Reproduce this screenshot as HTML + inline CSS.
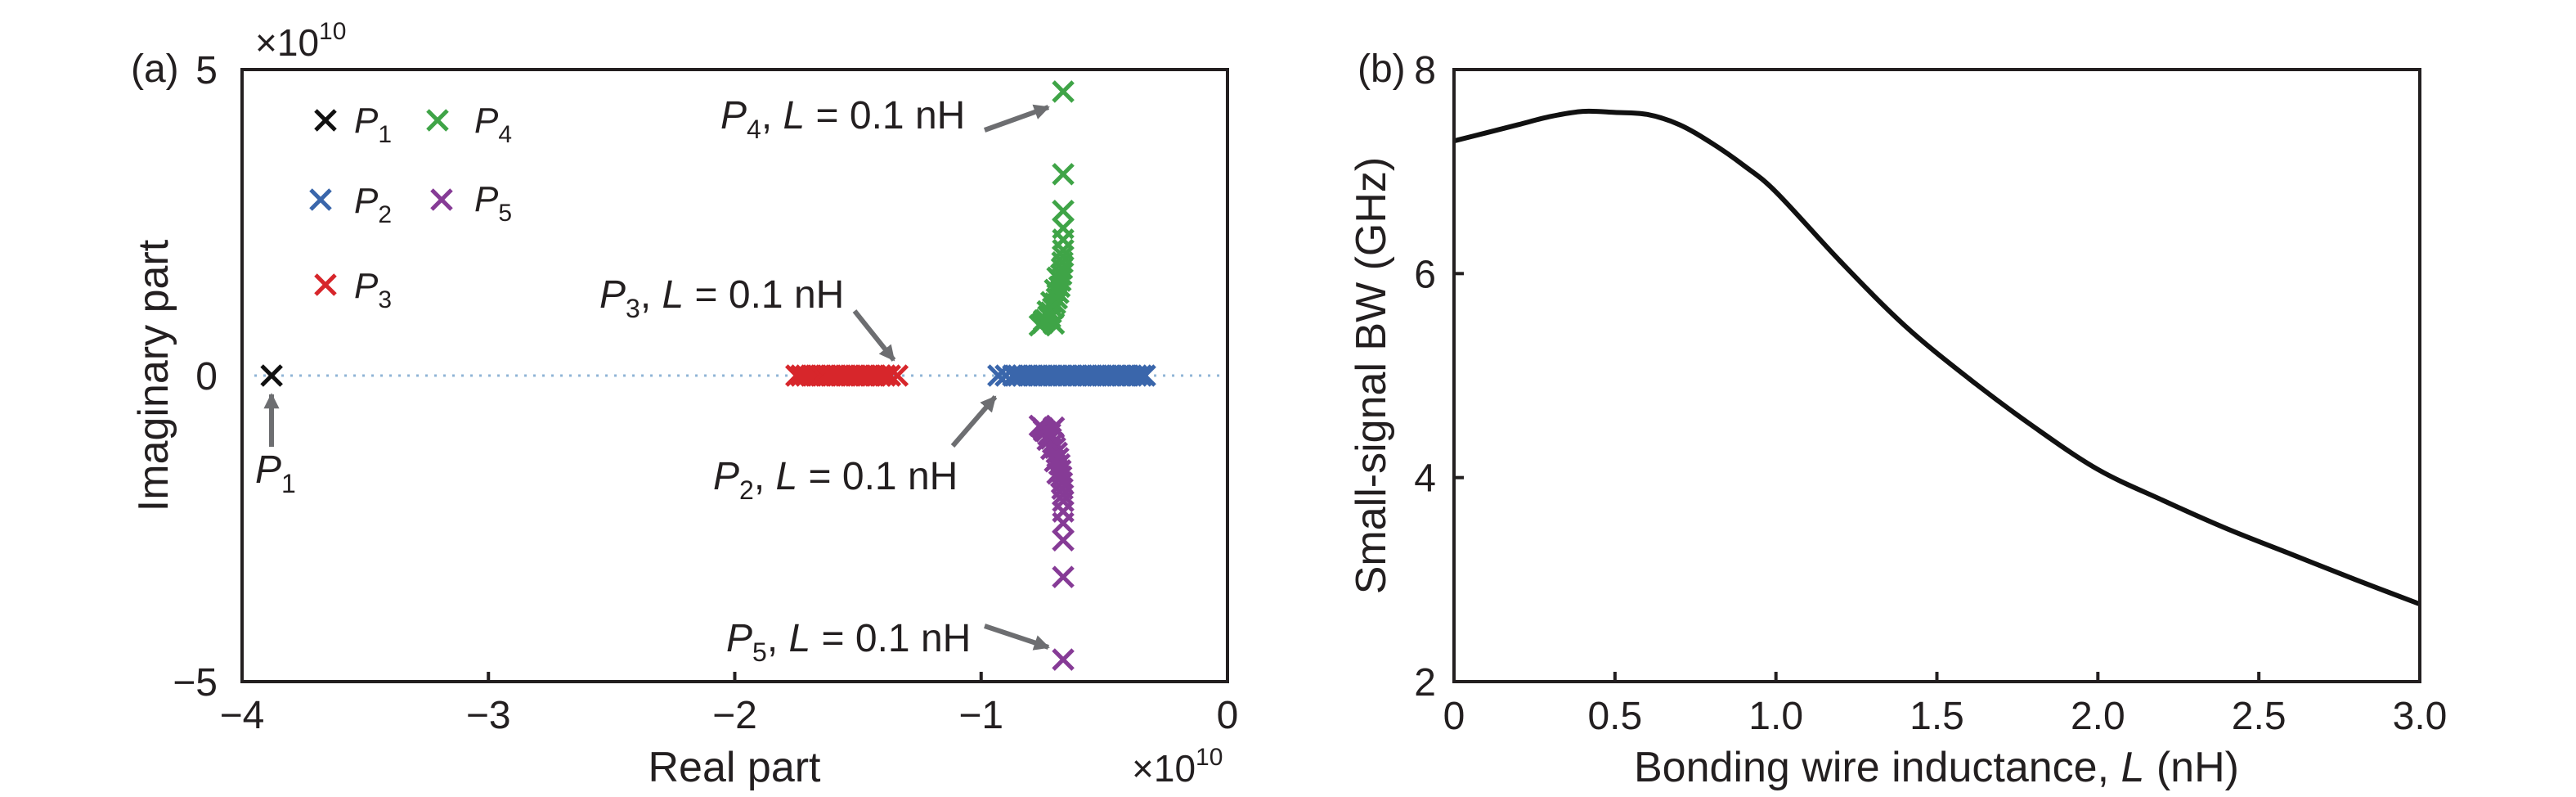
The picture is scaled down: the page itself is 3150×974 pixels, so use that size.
<!DOCTYPE html>
<html><head><meta charset="utf-8">
<style>
html,body{margin:0;padding:0;background:#fff;}
svg{display:block;font-family:"Liberation Sans Narrow","Liberation Sans",sans-serif;}
</style></head>
<body>
<svg id="fig" width="3150" height="974" viewBox="0 0 3150 974" xmlns="http://www.w3.org/2000/svg">
<g id="pa"></g>
<g id="pb"></g>
</svg>
<script>
// ---------- Panel (a) data (units of 1e10) ----------
const aXTicks = [-4, -3, -2, -1, 0];
const aYTicks = [5, 0, -5];
const p1Re = [-3.88];
const p1Im = [0];
const p2Re = [-0.93,-0.90,-0.87,-0.85,-0.83,-0.81,-0.79,-0.77,-0.75,-0.73,-0.71,-0.69,-0.67,-0.65,-0.63,-0.61,-0.59,-0.57,-0.55,-0.53,-0.51,-0.49,-0.47,-0.45,-0.43,-0.41,-0.39,-0.37,-0.35,-0.335];
const p2Im = [0,0,0,0,0,0,0,0,0,0,0,0,0,0,0,0,0,0,0,0,0,0,0,0,0,0,0,0,0,0];
const p3Re = [-1.75,-1.73,-1.71,-1.69,-1.67,-1.65,-1.63,-1.61,-1.59,-1.57,-1.55,-1.53,-1.51,-1.49,-1.47,-1.45,-1.43,-1.41,-1.39,-1.37,-1.34];
const p3Im = [0,0,0,0,0,0,0,0,0,0,0,0,0,0,0,0,0,0,0,0,0];
const p4Re = [-0.667,-0.667,-0.667,-0.667,-0.667,-0.667,-0.668,-0.670,-0.672,-0.675,-0.678,-0.682,-0.687,-0.693,-0.700,-0.708,-0.717,-0.727,-0.738,-0.750,-0.762,-0.690,-0.700,-0.715,-0.730,-0.745,-0.705,-0.72];
const p4Im = [4.64,3.29,2.69,2.41,2.22,2.05,1.95,1.85,1.75,1.65,1.55,1.45,1.35,1.26,1.18,1.10,1.03,0.97,0.91,0.86,0.82,1.60,1.40,1.20,1.05,0.90,0.85,0.95];
const p5Re = [-0.667,-0.667,-0.667,-0.667,-0.667,-0.667,-0.668,-0.670,-0.672,-0.675,-0.678,-0.682,-0.687,-0.693,-0.700,-0.708,-0.717,-0.727,-0.738,-0.750,-0.762,-0.690,-0.700,-0.715,-0.730,-0.745,-0.705,-0.72];
const p5Im = [-4.64,-3.29,-2.69,-2.41,-2.22,-2.05,-1.95,-1.85,-1.75,-1.65,-1.55,-1.45,-1.35,-1.26,-1.18,-1.10,-1.03,-0.97,-0.91,-0.86,-0.82,-1.60,-1.40,-1.20,-1.05,-0.90,-0.85,-0.95];

// ---------- Panel (b) data ----------
const bL  = [0,0.1,0.2,0.3,0.4,0.5,0.6,0.7,0.8,0.9,1.0,1.2,1.4,1.6,1.8,2.0,2.2,2.4,2.6,2.8,3.0];
const bBW = [7.30,7.38,7.46,7.54,7.59,7.58,7.56,7.46,7.28,7.06,6.80,6.12,5.49,4.97,4.50,4.08,3.78,3.50,3.25,3.00,2.76];
const bXTicks = [0,0.5,1.0,1.5,2.0,2.5,3.0];
const bXTickLabels = ["0","0.5","1.0","1.5","2.0","2.5","3.0"];
const bYTicks = [2,4,6,8];

const NS = "http://www.w3.org/2000/svg";
function mk(tag, attrs, parent){
  const e = document.createElementNS(NS, tag);
  for (const k in attrs) e.setAttribute(k, attrs[k]);
  parent.appendChild(e);
  return e;
}
const pa = document.getElementById('pa');
const pb = document.getElementById('pb');

// ---- Panel a geometry ----
const aL=296, aR=1501, aT=85, aB=833;
const ax = v => aL + (v - (-4)) / 4 * (aR - aL);
const ay = v => aT + (5 - v) / 10 * (aB - aT);

const zl = mk('line',{x1:ax(-3.95),x2:ax(-0.02),y1:ay(0),y2:ay(0),stroke:'#8fb4d6','stroke-width':3,'stroke-dasharray':'3 8'},pa);



function cross(g, cx, cy, color, name){
  const h=12;
  const grp = mk('g',{stroke:color,'stroke-width':5},g);
  
  
  mk('line',{x1:cx-h,y1:cy-h,x2:cx+h,y2:cy+h},grp);
  mk('line',{x1:cx-h,y1:cy+h,x2:cx+h,y2:cy-h},grp);
  return grp;
}
function series(re, im, color, name){
  const g = mk('g',{},pa);
  
  
  for (let i=0;i<re.length;i++) cross(g, ax(re[i]), ay(im[i]), color, name+'-point');
}
series(p3Re,p3Im,'#d7262b','p3');
series(p2Re,p2Im,'#3a66ab','p2');
series(p4Re,p4Im,'#3fa447','p4');
series(p5Re,p5Im,'#863b96','p5');
series(p1Re,p1Im,'#111111','p1');

const fa = mk('rect',{x:aL,y:aT,width:aR-aL,height:aB-aT,fill:'none',stroke:'#231f20','stroke-width':4},pa);



aXTicks.forEach(t=>{
  const tk = mk('line',{x1:ax(t),x2:ax(t),y1:aB,y2:aB-12,stroke:'#231f20','stroke-width':4},pa);
  
  
  const lb = mk('text',{x:ax(t),y:aB+57,'font-size':48,'text-anchor':'middle',fill:'#231f20'},pa);
  lb.textContent = t<0 ? '\u2212'+Math.abs(t) : String(t);
  
  
});
aYTicks.forEach(t=>{
  const lb = mk('text',{x:aL-30,y:ay(t)+17,'font-size':48,'text-anchor':'end',fill:'#231f20'},pa);
  lb.textContent = t<0 ? '\u2212'+Math.abs(t) : String(t);
  
  
});

// ---- Panel b geometry ----
const bLft=1778, bRt=2959, bT=85, bBt=833;
const bx = v => bLft + v/3*(bRt-bLft);
const by = v => bT + (8 - v)/6*(bBt-bT);

const pts = bL.map((l,i)=>[bx(l), by(bBW[i])]);
let d = 'M'+pts[0][0]+','+pts[0][1];
for (let i=0;i<pts.length-1;i++){
  const p0=pts[Math.max(i-1,0)], p1=pts[i], p2=pts[i+1], p3=pts[Math.min(i+2,pts.length-1)];
  const c1x=p1[0]+(p2[0]-p0[0])/6, c1y=p1[1]+(p2[1]-p0[1])/6;
  const c2x=p2[0]-(p3[0]-p1[0])/6, c2y=p2[1]-(p3[1]-p1[1])/6;
  d += ' C'+c1x+','+c1y+' '+c2x+','+c2y+' '+p2[0]+','+p2[1];
}
const curve = mk('path',{d:d,fill:'none',stroke:'#111','stroke-width':6},pb);



const fb = mk('rect',{x:bLft,y:bT,width:bRt-bLft,height:bBt-bT,fill:'none',stroke:'#231f20','stroke-width':4},pb);



bXTicks.forEach((t,i)=>{
  const tk = mk('line',{x1:bx(t),x2:bx(t),y1:bBt,y2:bBt-12,stroke:'#231f20','stroke-width':4},pb);
  
  
  const lb = mk('text',{x:bx(t),y:bBt+58,'font-size':48,'text-anchor':'middle',fill:'#231f20'},pb);
  lb.textContent = bXTickLabels[i];
  
  
});
bYTicks.forEach(t=>{
  const tk = mk('line',{x1:bLft,x2:bLft+12,y1:by(t),y2:by(t),stroke:'#231f20','stroke-width':4},pb);
  
  
  const lb = mk('text',{x:bLft-22,y:by(t)+17,'font-size':48,'text-anchor':'end',fill:'#231f20'},pb);
  lb.textContent = String(t);
  
  
});
</script>
<script>
(function(){
  const svg = document.getElementById('fig');
  svg.insertAdjacentHTML('beforeend', `
  <g fill="#231f20">
    <text x="160" y="100" font-size="48">(a)</text>
    <text x="312" y="68" font-size="46">×10<tspan font-size="30" dy="-20">10</tspan></text>
    <text transform="translate(205,459) rotate(-90)" font-size="52" text-anchor="middle">Imaginary part</text>
    <text x="898" y="955" font-size="52" text-anchor="middle">Real part</text>
    <text x="1384" y="955" font-size="46">×10<tspan font-size="30" dy="-20">10</tspan></text>
  </g>
  <g fill="#231f20" font-size="44">
    <g><g stroke="#111" stroke-width="5"><line x1="386" y1="135" x2="410" y2="159"/><line x1="386" y1="159" x2="410" y2="135"/></g><text x="433" y="162" font-style="italic">P<tspan font-size="30" font-style="normal" dy="12">1</tspan></text></g>
    <g><g stroke="#3fa447" stroke-width="5"><line x1="523" y1="135" x2="547" y2="159"/><line x1="523" y1="159" x2="547" y2="135"/></g><text x="580" y="162" font-style="italic">P<tspan font-size="30" font-style="normal" dy="12">4</tspan></text></g>
    <g><g stroke="#3a66ab" stroke-width="5"><line x1="380" y1="232" x2="404" y2="256"/><line x1="380" y1="256" x2="404" y2="232"/></g><text x="433" y="260" font-style="italic">P<tspan font-size="30" font-style="normal" dy="12">2</tspan></text></g>
    <g><g stroke="#863b96" stroke-width="5"><line x1="528" y1="232" x2="552" y2="256"/><line x1="528" y1="256" x2="552" y2="232"/></g><text x="580" y="258" font-style="italic">P<tspan font-size="30" font-style="normal" dy="12">5</tspan></text></g>
    <g><g stroke="#d7262b" stroke-width="5"><line x1="386" y1="336" x2="410" y2="360"/><line x1="386" y1="360" x2="410" y2="336"/></g><text x="433" y="364" font-style="italic">P<tspan font-size="30" font-style="normal" dy="12">3</tspan></text></g>
  </g>
  <g fill="#231f20" font-size="48">
    <defs><marker id="ah" viewBox="0 0 10 10" refX="9" refY="5" markerWidth="3.2" markerHeight="3.2" orient="auto"><path d="M0,0 L10,5 L0,10 z" fill="#6d6e71"/></marker></defs>
    <g stroke="#6d6e71" stroke-width="6" marker-end="url(#ah)">
      <line x1="332" y1="546" x2="332" y2="482"/>
      <line x1="1045" y1="380" x2="1093" y2="440"/>
      <line x1="1165" y1="545" x2="1217" y2="485"/>
      <line x1="1204" y1="159" x2="1282" y2="131"/>
      <line x1="1204" y1="765" x2="1282" y2="791"/>
    </g>
    <text x="312" y="590"><tspan font-style="italic">P</tspan><tspan font-size="32" dy="12">1</tspan></text>
    <text x="733" y="376"><tspan font-style="italic">P</tspan><tspan font-size="32" dy="12">3</tspan><tspan dy="-12">, </tspan><tspan font-style="italic">L</tspan> = 0.1 nH</text>
    <text x="872" y="598"><tspan font-style="italic">P</tspan><tspan font-size="32" dy="12">2</tspan><tspan dy="-12">, </tspan><tspan font-style="italic">L</tspan> = 0.1 nH</text>
    <text x="881" y="157"><tspan font-style="italic">P</tspan><tspan font-size="32" dy="12">4</tspan><tspan dy="-12">, </tspan><tspan font-style="italic">L</tspan> = 0.1 nH</text>
    <text x="888" y="796"><tspan font-style="italic">P</tspan><tspan font-size="32" dy="12">5</tspan><tspan dy="-12">, </tspan><tspan font-style="italic">L</tspan> = 0.1 nH</text>
  </g>
  <g fill="#231f20">
    <text x="1660" y="100" font-size="48">(b)</text>
    <text transform="translate(1694,459) rotate(-90)" font-size="52" text-anchor="middle">Small-signal BW (GHz)</text>
    <text x="2368" y="955" font-size="52" text-anchor="middle">Bonding wire inductance, <tspan font-style="italic">L</tspan> (nH)</text>
  </g>`);
})();
</script>
</body></html>
